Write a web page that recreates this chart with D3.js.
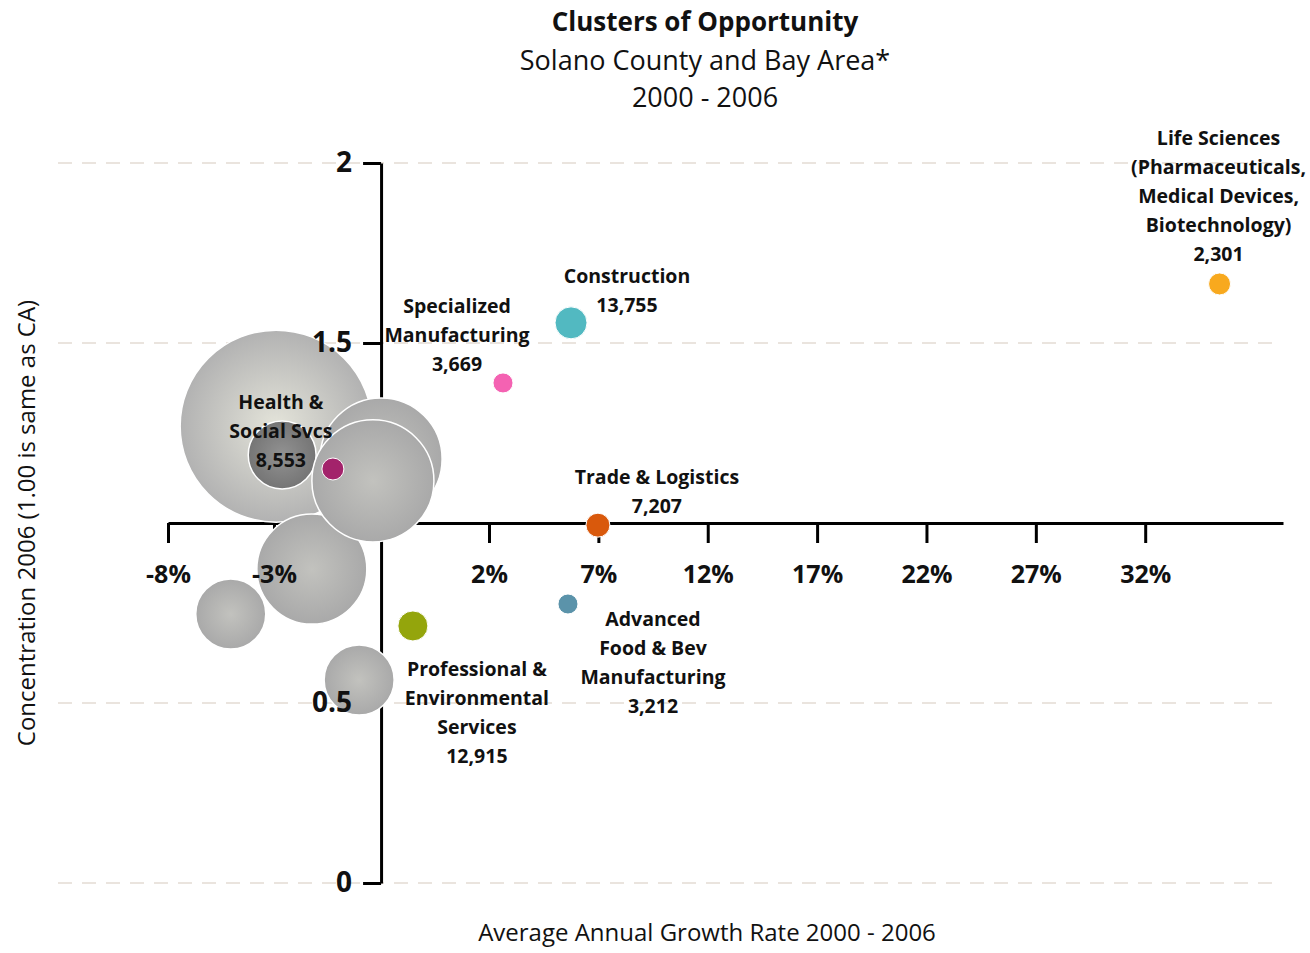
<!DOCTYPE html>
<html>
<head>
<meta charset="utf-8">
<script src="https://cdn.jsdelivr.net/npm/d3@7"></script>
<style>
  body { margin: 0; background: #fff; }
  #chart text { font-family: "Open Sans", "DejaVu Sans", sans-serif; fill: #111; }
</style>
</head>
<body>
<div id="chart"></div>
<script>
// Solano clusters (coloured bubbles)
const clusterLabels = [
  ["Life Sciences", "(Pharmaceuticals,", "Medical Devices,", "Biotechnology)"],
  ["Construction"],
  ["Specialized", "Manufacturing"],
  ["Health &", "Social Svcs"],
  ["Trade & Logistics"],
  ["Advanced", "Food & Bev", "Manufacturing"],
  ["Professional &", "Environmental", "Services"]
];
const clusterJobs = [2301, 13755, 3669, 8553, 7207, 3212, 12915];
const clusterGrowth = [35.4, 5.75, 2.64, -1.63, 6.98, 5.61, 0.23];
const clusterConcentration = [1.664, 1.556, 1.389, 1.15, 0.994, 0.775, 0.714];
const clusterSize = [1.31, 2.78, 1.09, 1.31, 1.56, 1.09, 2.44];

// Bay Area clusters (grey bubbles), in drawing order
const bayGrowth = [-2.95, -2.81, -2.12, -5.04, -1.02, -0.51, -0.70];
const bayConcentration = [1.269, 1.189, 0.872, 0.747, 0.564, 1.178, 1.117];
const baySize = [100, 12.5, 32.8, 13.3, 13.3, 40.4, 40.4];

const xTicks = [-8, -3, 2, 7, 12, 17, 22, 27, 32];
const yTicks = [0, 0.5, 1.5, 2];

// styling / layout
const clusterColors = ["#f8a91e", "#52b9c1", "#f462b2", "#a3236b", "#d9590c", "#5b93aa", "#94a50c"];
const bayFills = ["url(#gLight)", "url(#gDark)", "url(#gGrey)", "url(#gGrey)", "url(#gGrey)", "url(#gGrey)", "url(#gGrey)"];
const labelOffsets = [[-1, -146], [56, -47], [-46, -77], [-52, -67], [59, -48], [85, 15], [64, 43]];
const lineHeight = 29;
const width = 1310, height = 953;
const yAxisAt = -0.51, xAxisAt = 1;

const svg = d3.select("#chart").append("svg")
  .attr("width", width).attr("height", height);

const defs = svg.append("defs");
const grad = (id, c0, c1) => {
  const g = defs.append("radialGradient").attr("id", id);
  g.append("stop").attr("offset", "0%").attr("stop-color", c0);
  g.append("stop").attr("offset", "100%").attr("stop-color", c1);
};
grad("gLight", "#e4e4da", "#b2b2b2");
grad("gGrey", "#c2c2be", "#a9a9a9");
grad("gDark", "#929292", "#757575");

// scales (x axis of the original is not evenly spaced between -3% and 2%)
const x = d3.scaleLinear().domain([-8, -3, 2, 38.3]).range([168, 274, 489, 1283]);
const y = d3.scaleLinear().domain([0, 2]).range([883, 163]);
const r = d3.scaleSqrt().domain([0, 100]).range([0, 96]);

// gridlines
svg.append("g").selectAll("line")
  .data(yTicks)
  .join("line")
    .attr("x1", 58).attr("x2", 1275)
    .attr("y1", d => y(d)).attr("y2", d => y(d))
    .attr("stroke", "#e4dbd3")
    .attr("stroke-width", 1.3)
    .attr("stroke-dasharray", "14,10");

// axis lines and ticks (labels are drawn later, on top of the bubbles)
const xAxis = d3.axisBottom(x).tickValues(xTicks).tickSize(20).tickSizeOuter(0)
  .tickPadding(22).tickFormat(d => d + "%");
const yAxis = d3.axisLeft(y).tickValues(yTicks).tickSize(18).tickSizeOuter(0)
  .tickPadding(11).tickFormat(d3.format("~g"));

const styleLines = g => {
  g.selectAll("path, line").attr("stroke", "#000").attr("stroke-width", 3);
  g.selectAll("text").remove();
};
svg.append("g").attr("transform", `translate(0,${y(xAxisAt)})`).call(xAxis).call(styleLines);
svg.append("g").attr("transform", `translate(${x(yAxisAt)},0)`).call(yAxis).call(styleLines);

// grey bubbles
svg.append("g").selectAll("circle")
  .data(bayGrowth)
  .join("circle")
    .attr("cx", d => x(d))
    .attr("cy", (d, i) => y(bayConcentration[i]))
    .attr("r", (d, i) => r(baySize[i]))
    .attr("fill", (d, i) => bayFills[i])
    .attr("stroke", "#fff")
    .attr("stroke-width", 1.5);

// coloured bubbles
svg.append("g").selectAll("circle")
  .data(clusterGrowth)
  .join("circle")
    .attr("cx", d => x(d))
    .attr("cy", (d, i) => y(clusterConcentration[i]))
    .attr("r", (d, i) => r(clusterSize[i]))
    .attr("fill", (d, i) => clusterColors[i])
    .attr("stroke", "#fff")
    .attr("stroke-width", 1);

// tick labels
const styleText = g => {
  g.select(".domain").remove();
  g.selectAll("line").remove();
  g.selectAll("text").style("font-weight", "bold").attr("fill", "#111");
};
svg.append("g").attr("transform", `translate(0,${y(xAxisAt)})`).call(xAxis).call(styleText)
  .selectAll("text").style("font-size", "25px");
svg.append("g").attr("transform", `translate(${x(yAxisAt)},0)`).call(yAxis).call(styleText)
  .selectAll("text").style("font-size", "28px");

// bubble labels
const fmt = d3.format(",");
const labels = svg.append("g").selectAll("text")
  .data(clusterLabels)
  .join("text")
    .attr("text-anchor", "middle")
    .style("font-size", "19.5px")
    .style("font-weight", "bold");
labels.each(function(lines, i) {
  const cx = x(clusterGrowth[i]) + labelOffsets[i][0];
  const cy = y(clusterConcentration[i]) + labelOffsets[i][1];
  d3.select(this).selectAll("tspan")
    .data(lines.concat(fmt(clusterJobs[i])))
    .join("tspan")
      .attr("x", cx)
      .attr("y", (d, j) => cy + j * lineHeight)
      .attr("dy", "0.35em")
      .text(d => d);
});

// titles
const titles = [["Clusters of Opportunity", 22, "bold", 26], ["Solano County and Bay Area*", 61, "normal", 27], ["2000 - 2006", 98, "normal", 27]];
svg.append("g").selectAll("text")
  .data(titles)
  .join("text")
    .attr("x", 705).attr("y", d => d[1])
    .attr("dy", "0.35em")
    .attr("text-anchor", "middle")
    .style("font-size", d => d[3] + "px")
    .style("font-weight", d => d[2])
    .text(d => d[0]);

svg.append("text")
  .attr("x", 707).attr("y", 933).attr("dy", "0.35em")
  .attr("text-anchor", "middle")
  .style("font-size", "24px")
  .text("Average Annual Growth Rate 2000 - 2006");

svg.append("text")
  .attr("transform", "translate(27,523) rotate(-90)")
  .attr("dy", "0.35em")
  .attr("text-anchor", "middle")
  .style("font-size", "24px")
  .text("Concentration 2006 (1.00 is same as CA)");
</script>
</body>
</html>
